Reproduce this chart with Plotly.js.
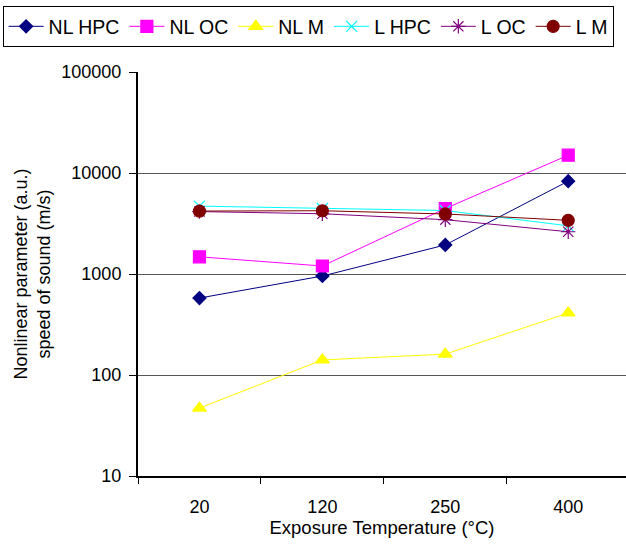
<!DOCTYPE html>
<html><head><meta charset="utf-8">
<script src="https://cdn.plot.ly/plotly-3.0.1.min.js"></script>
<style>html,body{margin:0;padding:0;background:#fff;}</style>
</head><body>
<div id="chart" style="width:626px;height:544px;"></div>
<script>
const categories = ["20", "120", "250", "400"];
const nlHPC = [578, 955, 1940, 8300];
const nlOC = [1480, 1200, 4450, 15000];
const nlM = [47, 141, 161, 411];
const lHPC = [4700, 4450, 4250, 3000];
const lOC = [4150, 3950, 3450, 2620];
const lM = [4200, 4230, 3930, 3400];

function tr(name, y, color, symbol, size) {
  return {
    type: 'scatter', mode: 'lines+markers', name: name,
    x: categories, y: y,
    line: {color: color, width: 1},
    marker: {color: color, symbol: symbol, size: size, line: {color: color, width: 1.2}}
  };
}
const data = [
  tr('NL HPC', nlHPC, '#000080', 'diamond', 10),
  tr('NL OC', nlOC, '#FF00FF', 'square', 12),
  tr('NL M', nlM, '#FFFF00', 'triangle-up', 12),
  tr('L HPC', lHPC, '#00FFFF', 'x-thin-open', 11),
  tr('L OC', lOC, '#800080', 'asterisk-open', 12),
  tr('L M', lM, '#800000', 'circle', 12)
];
const layout = {
  width: 626, height: 544,
  margin: {l: 138, r: 0, t: 72, b: 68},
  paper_bgcolor: '#fff', plot_bgcolor: '#fff',
  font: {family: 'Liberation Sans, Arial, sans-serif', size: 18, color: '#000'},
  showlegend: true,
  legend: {
    orientation: 'h', x: -0.2775, y: 1.163, xanchor: 'left', yanchor: 'top',
    bordercolor: '#000', borderwidth: 1, bgcolor: '#fff',
    font: {size: 19.5}, itemwidth: 35, tracegroupgap: 0
  },
  xaxis: {
    type: 'category', range: [-0.5, 3.47],
    showline: true, linecolor: '#000', linewidth: 2,
    ticks: 'outside', ticklen: 6, tickcolor: '#000', tickson: 'boundaries',
    ticklabelstandoff: 13,
    showgrid: false, zeroline: false,
    title: {text: 'Exposure Temperature (°C)', font: {size: 18.5}, standoff: 5},
    tickfont: {size: 18}
  },
  yaxis: {
    type: 'log', range: [1, 5],
    tickvals: [10, 100, 1000, 10000, 100000],
    ticktext: ['10', '100', '1000', '10000', '100000'],
    showline: true, linecolor: '#000', linewidth: 2,
    ticks: 'outside', ticklen: 7, tickcolor: '#000',
    ticklabelstandoff: 4,
    showgrid: true, gridcolor: '#555', gridwidth: 1,
    zeroline: false,
    title: {text: 'Nonlinear parameter (a.u.)<br>speed of sound (m/s)', font: {size: 18}, standoff: 6},
    tickfont: {size: 18}
  }
};
Plotly.newPlot('chart', data, layout, {displayModeBar: false, staticPlot: true});
</script>
</body></html>
